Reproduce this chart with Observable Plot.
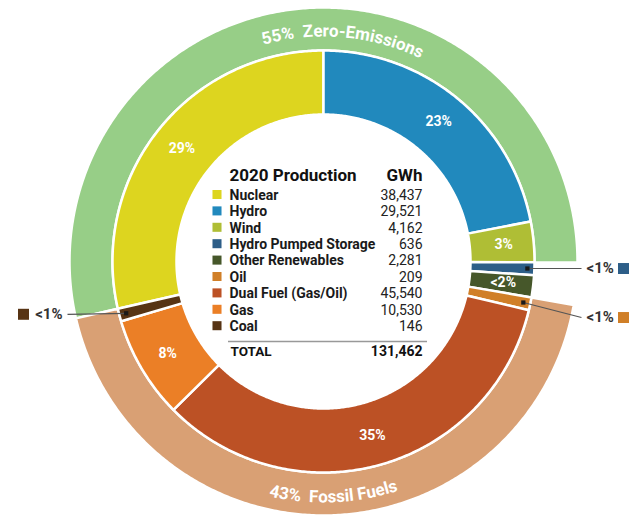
<!DOCTYPE html>
<html><head><meta charset="utf-8">
<script src="https://cdn.jsdelivr.net/npm/d3@7"></script>
<script src="https://cdn.jsdelivr.net/npm/@observablehq/plot@0.6"></script>
<style>body{margin:0;background:#fff;} #chart svg{display:block}</style>
</head><body><div id="chart"></div>
<script>
// ---- data ----
const categories = ["Nuclear","Hydro","Wind","Hydro Pumped Storage","Other Renewables","Oil","Dual Fuel (Gas/Oil)","Gas","Coal"];
const gwh = [38437, 29521, 4162, 636, 2281, 209, 45540, 10530, 146];
const colors = ["#DDD51F","#2189BD","#AFBE35","#2D5E88","#46572A","#D07F28","#BC5125","#EB7F26","#573414"];
const shareLabels = ["29%","23%","3%","<1%","<2%","<1%","35%","8%","<1%"];
const groupNames = ["Zero-Emissions","Fossil Fuels"];
const groupShares = ["55%","43%"];
const groupColors = ["#97CE87","#D9A074"];
const groupFirst = ["Nuclear","Oil"];
const groupLast = ["Wind","Coal"];
const tableTitle = "2020 Production";
const unitLabel = "GWh";
const totalLabel = "TOTAL";
const totalValue = 131462;

// ---- layout ----
const W = 639, H = 515, cx = 323, cy = 261;
const r0 = 147, r1 = 211, r2 = 254;
const rad = Math.PI / 180;
const minShare = 0.01;
const effective = gwh.map(v => Math.max(v, minShare * totalValue));
const effSum = d3.sum(effective);
let acc = -effective[0] / effSum * 360;
const slices = categories.map((name, i) => {
  const a0 = acc, a1 = acc + effective[i] / effSum * 360; acc = a1;
  return {name, value: gwh[i], label: shareLabels[i], a0, a1, mid: (a0 + a1) / 2};
});
const byName = new Map(slices.map(d => [d.name, d]));
const px = (a, r) => cx + r * Math.sin(a * rad);
const py = (a, r) => cy - r * Math.cos(a * rad);

function ringPoly(key, a0, a1, ri, ro) {
  const n = Math.max(2, Math.ceil((a1 - a0) / 0.5));
  const pts = [];
  for (let k = 0; k <= n; k++) { const a = a0 + (a1 - a0) * k / n; pts.push({key, x: px(a, ro), y: py(a, ro)}); }
  for (let k = n; k >= 0; k--) { const a = a0 + (a1 - a0) * k / n; pts.push({key, x: px(a, ri), y: py(a, ri)}); }
  pts.push({...pts[0]});
  return pts;
}
const innerPolys = slices.flatMap(d => ringPoly(d.name, d.a0, d.a1, r0, r1));
const groups = groupNames.map((g, i) => ({name: g, share: groupShares[i], a0: byName.get(groupFirst[i]).a0, a1: byName.get(groupLast[i]).a1}));
const outerPolys = groups.flatMap(g => ringPoly(g.name, g.a0, g.a1, r1, r2));

// curved ring labels, one character at a time
const ctx = document.createElement("canvas").getContext("2d");
function arcText(str, centerDeg, r, size, bottom) {
  ctx.font = `700 ${size}px Roboto`;
  const chars = [...str];
  const widths = chars.map(c => ctx.measureText(c).width);
  const total = d3.sum(widths);
  let pos = -total / 2;
  return chars.map((c, i) => {
    const m = pos + widths[i] / 2; pos += widths[i];
    const da = m / r / rad;
    const a = bottom ? centerDeg - da : centerDeg + da;
    return {c, x: px(a, r), y: py(a, r), rotate: bottom ? a - 180 : a};
  });
}
const ringFont = 17;
const topChars = arcText(`${groups[0].share}  ${groups[0].name}`, 5, 225, ringFont, false);
const botChars = arcText(`${groups[1].share}  ${groups[1].name}`, 177.5, 241, ringFont, true);

// slice labels
const inLabels = slices.filter(d => d.label !== "<1%").map(d => ({...d, x: px(d.mid, 181), y: py(d.mid, 181)}));
const calloutDy = {"Hydro Pumped Storage": 0, "Oil": 15, "Coal": 1};
const callouts = slices.filter(d => d.label === "<1%").map(d => {
  const x0 = px(d.mid, 204), y0 = py(d.mid, 204);
  const right = d.mid < 180;
  const x1 = right ? cx + 258 : cx - 256, y1 = y0 + calloutDy[d.name];
  return {...d, right, x0, y0, x1, y1, tx: right ? x1 + 5 : x1 - 5, sx: right ? x1 + 42 : x1 - 44};
});
const calloutsR = callouts.filter(d => d.right);
const calloutsL = callouts.filter(d => !d.right);

// table
const tx0 = 229, tx1 = 422, headY = 180, rowY0 = 199.3, rowStep = 16.4;
const rows = slices.map((d, i) => ({...d, y: rowY0 + i * rowStep}));
const ruleY = rowY0 + (categories.length - 1) * rowStep + 10.5;
const totalY = ruleY + 14.5;
const fmt = d3.format(",");

const plot = Plot.plot({
  width: W, height: H, margin: 0,
  x: {domain: [0, W], range: [0, W], axis: null},
  y: {domain: [0, H], range: [0, H], axis: null},
  color: {domain: [...categories, ...groupNames], range: [...colors, ...groupColors]},
  style: {fontFamily: "Roboto", background: "white"},
  marks: [
    Plot.line(outerPolys, {x: "x", y: "y", z: "key", fill: "key", stroke: "white", strokeWidth: 2.5, curve: "linear"}),
    Plot.line(innerPolys, {x: "x", y: "y", z: "key", fill: "key", stroke: "white", strokeWidth: 2.5, curve: "linear"}),
    Plot.text(topChars, {x: "x", y: "y", text: "c", rotate: "rotate", lineAnchor: "bottom", textAnchor: "middle", fill: "white", fontSize: ringFont, fontWeight: 700}),
    Plot.text(botChars, {x: "x", y: "y", text: "c", rotate: "rotate", lineAnchor: "bottom", textAnchor: "middle", fill: "white", fontSize: ringFont, fontWeight: 700}),
    Plot.text(inLabels, {x: "x", y: "y", text: "label", fill: "white", fontSize: 14, fontWeight: 700, lineAnchor: "middle"}),
    Plot.link(callouts, {x1: "x0", y1: "y0", x2: "x1", y2: "y1", stroke: "#555", strokeWidth: 1.2}),
    Plot.dot(callouts, {x: "x0", y: "y0", symbol: "square", r: 2.4, fill: "#1a1a1a"}),
    Plot.text(calloutsR, {x: "tx", y: "y1", text: "label", textAnchor: "start", lineAnchor: "middle", fill: "#333", fontSize: 15, fontWeight: 700}),
    Plot.text(calloutsL, {x: "tx", y: "y1", text: "label", textAnchor: "end", lineAnchor: "middle", fill: "#333", fontSize: 15, fontWeight: 700}),
    Plot.dot(callouts, {x: "sx", y: "y1", symbol: "square", r: 6.2, fill: "name"}),
    // table
    Plot.text([tableTitle], {x: tx0, y: headY, text: d => d, textAnchor: "start", lineAnchor: "bottom", fontSize: 17, fontWeight: 700, fill: "#111"}),
    Plot.text([unitLabel], {x: tx1, y: headY, text: d => d, textAnchor: "end", lineAnchor: "bottom", fontSize: 17, fontWeight: 700, fill: "#111"}),
    Plot.dot(rows, {x: tx0 - 12.5, y: d => d.y - 5.3, symbol: "square", r: 5.1, fill: "name"}),
    Plot.text(rows, {x: tx0, y: "y", text: "name", textAnchor: "start", lineAnchor: "bottom", fontSize: 14, fontWeight: 700, fill: "#1a1a1a"}),
    Plot.text(rows, {x: tx1, y: "y", text: d => fmt(d.value), textAnchor: "end", lineAnchor: "bottom", fontSize: 14, fill: "#222"}),
    Plot.ruleY([ruleY], {x1: tx0 - 1, x2: tx1 + 5, stroke: "#999", strokeWidth: 1.6}),
    Plot.text([totalLabel], {x: tx0 + 1, y: totalY, text: d => d, textAnchor: "start", lineAnchor: "bottom", fontSize: 13.5, fontWeight: 700, fill: "#111"}),
    Plot.text([totalValue], {x: tx1, y: totalY, text: d => fmt(d), textAnchor: "end", lineAnchor: "bottom", fontSize: 14, fontWeight: 700, fill: "#111"})
  ]
});
document.getElementById("chart").append(plot);
</script>
</body></html>
